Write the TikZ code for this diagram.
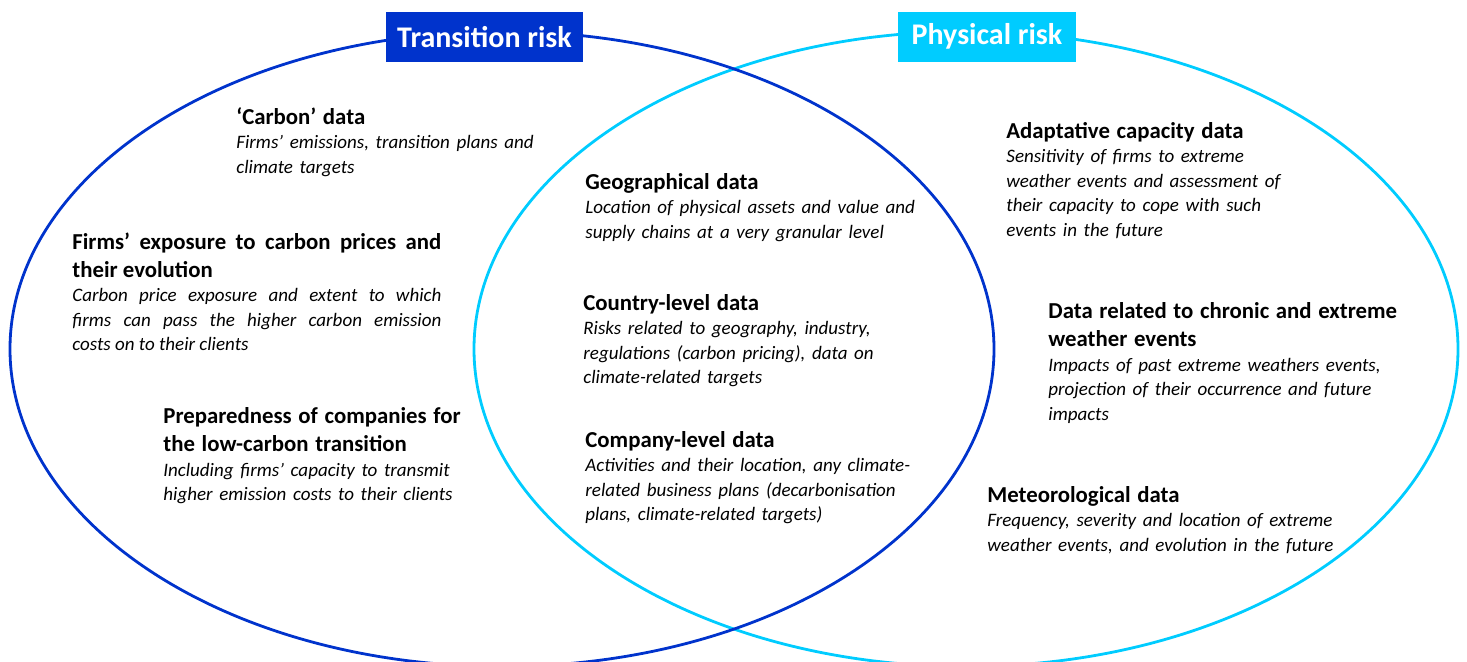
\documentclass[tikz,border=0pt]{standalone}
\usepackage{fontspec}
\setmainfont{Carlito}
\definecolor{trblue}{RGB}{0,51,204}
\definecolor{phcyan}{RGB}{0,204,255}
\newcommand{\headfont}{\fontsize{11.4}{14.2}\selectfont\bfseries}
\newcommand{\notefont}{\fontsize{9.5}{12.2}\selectfont\itshape}
\newcommand{\blockhead}[1]{{\headfont\rule{0pt}{8pt}#1\par}}
\newcommand{\blocktext}[1]{{\notefont #1\par}}
\tikzset{every node/.style={inner sep=0pt}}
\tikzset{block/.style={anchor=north west, text width=#1, align=left}}
\tikzset{riskbox/.style={fill=#1, text=white, minimum height=25pt,
    font=\fontsize{15}{17}\selectfont\bfseries}}

\begin{document}
\begin{tikzpicture}[x=0.5pt, y=-0.5pt]
  \useasboundingbox (0,0) rectangle (1467,661);

  \draw[phcyan, line width=1.4pt] (966,349) ellipse [x radius=246pt, y radius=158.75pt];
  \draw[trblue, line width=1.4pt] (502,349) ellipse [x radius=246pt, y radius=158.75pt];

  \node (transition) [riskbox=trblue, minimum width=98.5pt] at (484.5,37) {Transition risk};
  \node (physical) [riskbox=phcyan, minimum width=89pt] at (987,36.5) {Physical risk};

  \node (carbon) [block=220pt] at (236,107) {\blockhead{‘Carbon’ data}
    \blocktext{Firms’ emissions, transition plans and\\climate targets}};
  \node (exposure) [block=184.5pt, align=justify] at (72,232) {\blockhead{Firms’ exposure to carbon prices and\linebreak their evolution}
    \blocktext{Carbon price exposure and extent to which\linebreak firms can pass the higher carbon emission\linebreak costs on to their clients}};
  \node (preparedness) [block=220pt] at (163,407) {\blockhead{Preparedness of companies for\\the low-carbon transition}
    \blocktext{Including firms’ capacity to transmit\\higher emission costs to their clients}};

  \node (geographical) [block=220pt] at (585,173) {\blockhead{Geographical data}
    \blocktext{Location of physical assets and value and\\supply chains at a very granular level}};
  \node (country) [block=220pt] at (583,294) {\blockhead{Country-level data}
    \blocktext{Risks related to geography, industry,\\regulations (carbon pricing), data on\\climate-related targets}};
  \node (company) [block=220pt] at (585,431) {\blockhead{Company-level data}
    \blocktext{Activities and their location, any climate-\\related business plans (decarbonisation\\plans, climate-related targets)}};

  \node (adaptive) [block=220pt] at (1006,122) {\blockhead{Adaptative capacity data}
    \blocktext{Sensitivity of firms to extreme\\weather events and assessment of\\their capacity to cope with such\\events in the future}};
  \node (chronic) [block=220pt] at (1048,302) {\blockhead{Data related to chronic and extreme\\weather events}
    \blocktext{Impacts of past extreme weathers events,\\projection of their occurrence and future\\impacts}};
  \node (meteo) [block=220pt] at (987,486) {\blockhead{Meteorological data}
    \blocktext{Frequency, severity and location of extreme\\weather events, and evolution in the future}};
\end{tikzpicture}
\end{document}
